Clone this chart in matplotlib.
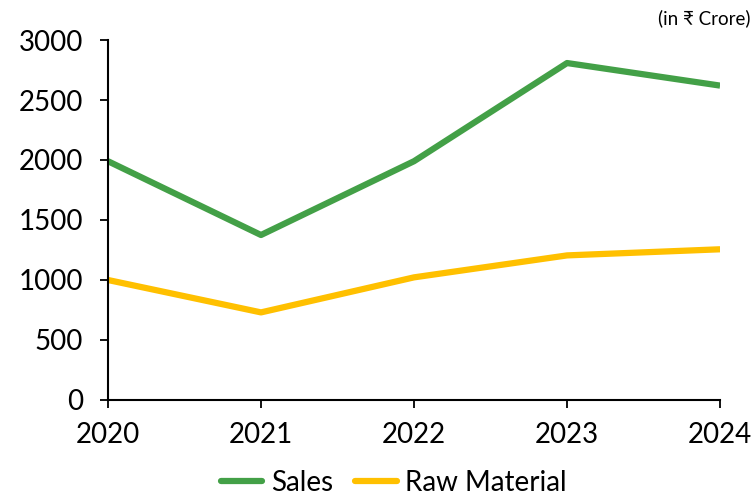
import matplotlib
matplotlib.use("Agg")
import matplotlib.pyplot as plt

years = [2020, 2021, 2022, 2023, 2024]
sales = [1990, 1375, 1990, 2808, 2620]
raw_material = [1000, 730, 1022, 1205, 1256]
yticks = [0, 500, 1000, 1500, 2000, 2500, 3000]

plt.rcParams['font.family'] = ['Lato', 'DejaVu Sans']

fig = plt.figure(figsize=(7.54, 5.0), dpi=100)
ax = fig.add_axes([0.1432, 0.2, 0.955 - 0.1432, 0.72])

ax.plot(years, sales, color='#43A047', lw=4.5, label='Sales', solid_capstyle='butt')
ax.plot(years, raw_material, color='#FFC000', lw=4.5, label='Raw Material', solid_capstyle='butt')

ax.set_xlim(2020, 2024)
ax.set_ylim(0, 3000)
ax.set_xticks(years)
ax.set_xticklabels([str(y) for y in years])
ax.set_yticks(yticks)
for s in ['top', 'right']:
    ax.spines[s].set_visible(False)
for s in ['left', 'bottom']:
    ax.spines[s].set_linewidth(1.5)
    ax.spines[s].set_color('black')
ax.tick_params(axis='both', direction='out', length=6, width=1.3, labelsize=20, colors='black')
ax.tick_params(axis='y', pad=12)
ax.tick_params(axis='x', pad=10)

fig.text(0.995, 0.963, '(in ₹ Crore)', ha='right', va='center', fontsize=13.5)

leg = fig.legend(loc='center', bbox_to_anchor=(0.522, 0.034), ncol=2, frameon=False,
                 fontsize=20, handlelength=1.5, handletextpad=0.3, columnspacing=0.8)
for h in leg.get_lines():
    h.set_solid_capstyle('round')

fig.savefig('out.png', dpi=100)
